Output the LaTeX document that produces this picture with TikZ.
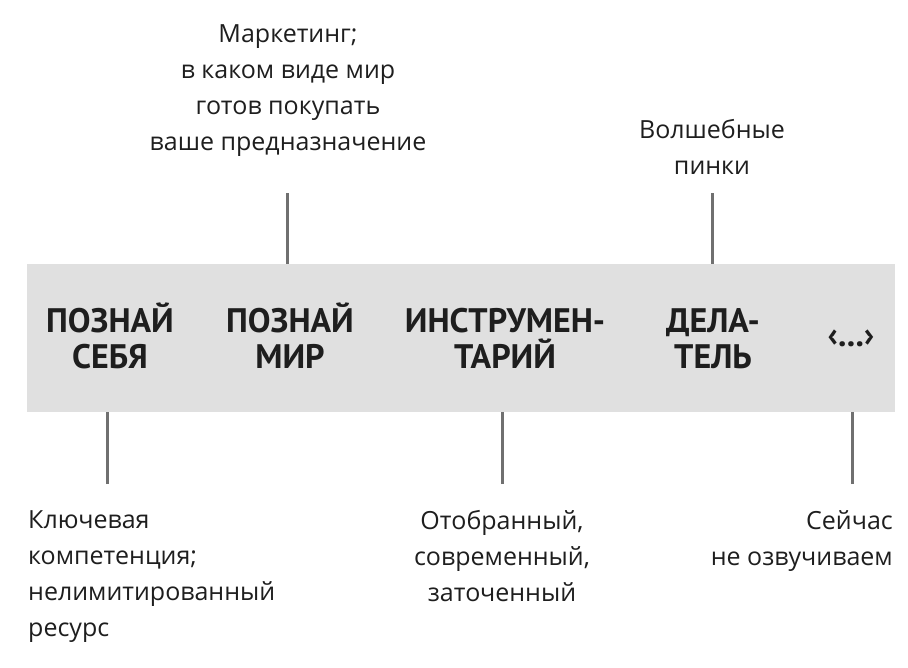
\documentclass[tikz,border=0pt]{standalone}
\usepackage{fontspec}
\setmainfont{Open Sans}
\newfontfamily\stagefont{PT Sans}
\definecolor{bandgray}{HTML}{E0E0E0}
\definecolor{stickgray}{HTML}{707070}
\definecolor{inkgray}{HTML}{1E1E1E}
\begin{document}
\begin{tikzpicture}[x=1pt,y=-1pt,
        band/.style={fill=bandgray, draw=none, minimum width=868pt, minimum height=148pt, inner sep=0pt},
        stage/.style={font=\stagefont\bfseries\fontsize{34}{36}\selectfont, align=center, text=inkgray, inner sep=0pt},
        remark/.style={font=\fontsize{25}{36.3}\selectfont, text=inkgray, inner sep=0pt, anchor=north},
        stick/.style={draw=stickgray, line width=3pt}]

        % Fix the frame
        \useasboundingbox (0,0) rectangle (908,667);

        % Draw the grey band
        \node[band] (band) at (461,338) {};

        % Label the stages on the band
        \node[stage] (self) at (110,336) {ПОЗНАЙ\\СЕБЯ};
        \node[stage] (world) at (290,336) {ПОЗНАЙ\\МИР};
        \node[stage] (tools) at (505,336) {\vphantom{Й}ИНСТРУМЕН-\\ТАРИЙ};
        \node[stage] (doer) at (713,336) {\vphantom{Й}ДЕЛА-\\ТЕЛЬ};
        \node[stage] (more) at (851,338) {‹...›};

        % Draw the sticks above the band
        \coordinate (mtop) at (287,193);
        \draw[stick] (mtop) -- (mtop |- band.north);
        \coordinate (ktop) at (712,193);
        \draw[stick] (ktop) -- (ktop |- band.north);

        % Draw the sticks below the band
        \coordinate (cbot) at (107,484);
        \draw[stick] (cbot) -- (cbot |- band.south);
        \coordinate (tbot) at (502,484);
        \draw[stick] (tbot) -- (tbot |- band.south);
        \coordinate (lbot) at (852,484);
        \draw[stick] (lbot) -- (lbot |- band.south);

        % Label the sticks above
        \node[remark, align=center] (market) at (288,24) {Маркетинг;\\в каком виде мир\\готов покупать\\ваше предназначение};
        \node[remark, align=center] (kicks) at (712,119) {Волшебные\\пинки};

        % Label the sticks below
        \node[remark, align=left, anchor=north west] (core) at (28,510) {Ключевая\\компетенция;\\нелимитированный\\ресурс};
        \node[remark, align=center] (picked) at (502,510) {Отобранный,\\современный,\\заточенный};
        \node[remark, align=right, anchor=north east] (later) at (893,510) {Сейчас\\не озвучиваем};

\end{tikzpicture}
\end{document}
